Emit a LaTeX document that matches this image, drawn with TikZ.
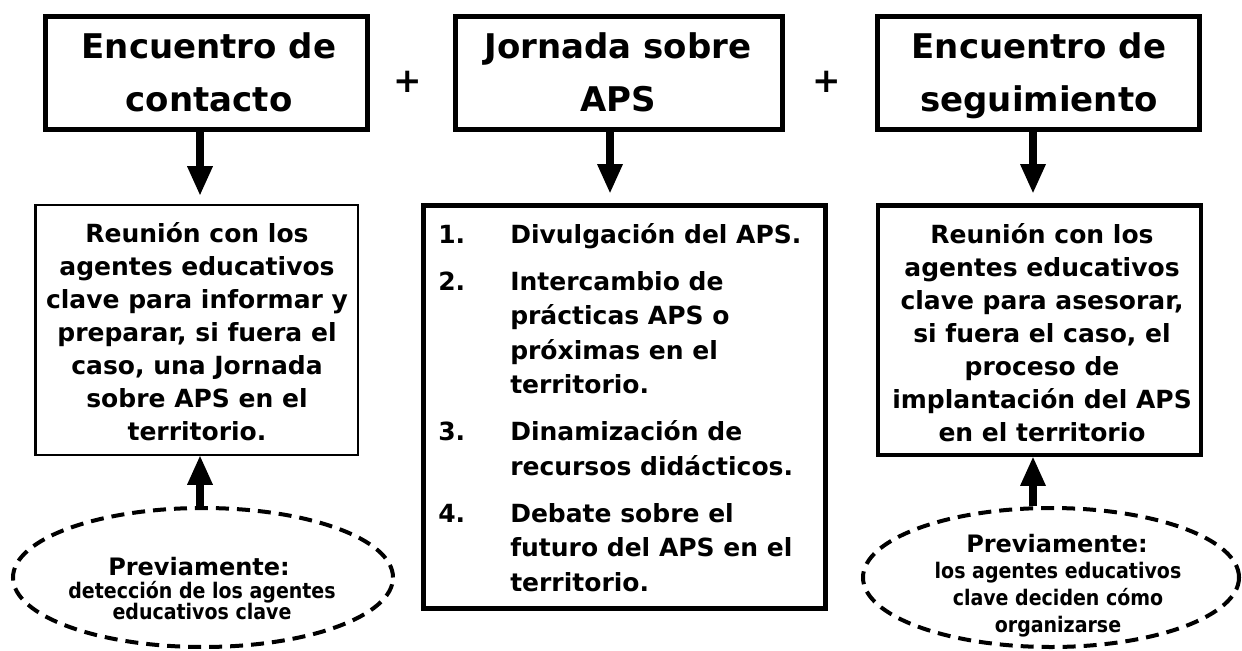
\documentclass[tikz,border=0pt]{standalone}
\usepackage{fontspec}
\setmainfont{DejaVu Sans}
\newfontfamily\narrowfam{DejaVu Sans}[FakeStretch=0.885]
\usetikzlibrary{arrows.meta,shapes.geometric,calc}
\newdimen\PX \PX=0.75pt
\newcommand\titlef{\fontsize{25.5pt}{30pt}\selectfont\bfseries}
\newcommand\bodyf{\fontsize{18.75pt}{24.75pt}\selectfont\bfseries}
\newcommand\prevf{\fontsize{18pt}{22pt}\selectfont\bfseries}
\newcommand\smallf{\narrowfam\fontsize{16.1pt}{18pt}\selectfont\bfseries}
\newcommand\clines[2]{\vtop{\baselineskip=#1\lineskiplimit=-\maxdimen\lineskip=0pt\halign{\hfil##\hfil\cr#2\crcr}}}
\newcommand\midlist{\vtop{\baselineskip=34.5\PX\lineskiplimit=-\maxdimen\lineskip=0pt
 \halign{\hbox to 72\PX{##\hfil}&##\hfil\cr
 1.&Divulgación del APS.\cr\noalign{\vskip12.5\PX}
 2.&Intercambio de\cr &prácticas APS o\cr &próximas en el\cr &territorio.\cr\noalign{\vskip12.5\PX}
 3.&Dinamización de\cr &recursos didácticos.\cr\noalign{\vskip12.5\PX}
 4.&Debate sobre el\cr &futuro del APS en el\cr &territorio.\crcr}}}
\tikzset{
 topbox/.style={draw, rectangle, line width=5\PX, inner sep=0pt, minimum height=113.5\PX},
 thinbox/.style={draw, rectangle, line width=2.2\PX, inner sep=0pt},
 medbox/.style={draw, rectangle, line width=4.5\PX, inner sep=0pt},
 ell/.style={draw, ellipse, line width=4\PX, dash pattern=on 13\PX off 8\PX, fill=white, inner sep=0pt, minimum height=139\PX},
 shaft/.style={line width=8\PX, -{Triangle[length=21.5pt, width=19.5pt, line width=0pt]}},
 txt/.style={inner sep=0pt, anchor=base},
}
\begin{document}
\begin{tikzpicture}[x=0.75pt, y=-0.75pt]
\useasboundingbox (0,0) rectangle (1242,650);
% top boxes
\node[topbox, minimum width=322.5\PX] (topA) at (206.25,72.75) {};
\node[topbox, minimum width=327.5\PX] (topB) at (618.75,72.75) {};
\node[topbox, minimum width=321.5\PX] (topC) at (1038.25,72.75) {};
\node[txt, font=\titlef] (tA) at (209,58) {\clines{53\PX}{Encuentro de\cr contacto}};
\node[txt, font=\titlef] (tB) at (618,58) {\clines{53\PX}{Jornada sobre\cr APS}};
\node[txt, font=\titlef] (tC) at (1039,58) {\clines{53\PX}{Encuentro de\cr seguimiento}};
\node[font=\titlef, inner sep=0pt] (plus1) at (408,82) {+};
\node[font=\titlef, inner sep=0pt] (plus2) at (827,82) {+};
% middle boxes
\node[thinbox, minimum width=322.5\PX, minimum height=250\PX] (midA) at (196.75,330) {};
\node[medbox, minimum width=402\PX, minimum height=403\PX] (midB) at (624.5,407) {};
\node[medbox, minimum width=323\PX, minimum height=249.5\PX] (midC) at (1039.5,330.25) {};
\node[txt, font=\bodyf] (bA) at (197,242.7) {\clines{33\PX}{Reunión con los\cr agentes educativos\cr clave para informar y\cr preparar, si fuera el\cr caso, una Jornada\cr sobre APS en el\cr territorio.}};
\node[txt, anchor=base west, font=\bodyf] (bB) at (438,243) {\midlist};
\node[txt, font=\bodyf] (bC) at (1042,243) {\clines{33\PX}{Reunión con los\cr agentes educativos\cr clave para asesorar,\cr si fuera el caso, el\cr proceso de\cr implantación del APS\cr en el territorio}};
% ellipses
\node[ell, minimum width=380\PX] (ellA) at (203,577.5) {};
\node[ell, minimum width=376\PX] (ellC) at (1051,577.5) {};
\node[txt, font=\prevf] (pA) at (199,575) {Previamente:};
\node[txt, font=\smallf] (sA) at (202,598) {\clines{21\PX}{detección de los agentes\cr educativos clave}};
\node[txt, font=\prevf] (pC) at (1057,552) {Previamente:};
\node[txt, font=\smallf] (sC) at (1058,578) {\clines{27\PX}{los agentes educativos\cr clave deciden cómo\cr organizarse}};
% arrows
\coordinate (xA) at (200,0);
\coordinate (xB) at (610,0);
\coordinate (xC) at (1033,0);
\draw[shaft] (topA.south -| xA) -- ($(midA.north -| xA)+(0,-9)$);
\draw[shaft] (topB.south -| xB) -- ($(midB.north -| xB)+(0,-10.5)$);
\draw[shaft] (topC.south -| xC) -- ($(midC.north -| xC)+(0,-10.5)$);
\draw[shaft] (ellA.north -| xA) -- (midA.south -| xA);
\draw[shaft] (ellC.north -| xC) -- (midC.south -| xC);
\end{tikzpicture}
\end{document}
